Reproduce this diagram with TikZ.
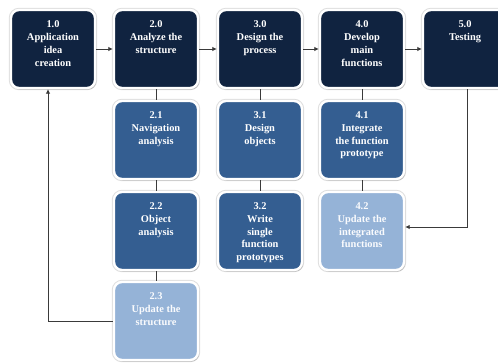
\documentclass[tikz,border=0pt]{standalone}
\usepackage{fontspec}
\setmainfont{Liberation Serif}
\usetikzlibrary{arrows.meta,shadows}
\definecolor{cdark}{HTML}{102340}
\definecolor{cmid}{HTML}{345E91}
\definecolor{clight}{HTML}{95B3D7}
\definecolor{cline}{HTML}{3A3A3A}
\newcommand\boxtext[1]{\parbox[c][56bp][t]{82bp}{\centering #1}}
\tikzset{
  pbox/.style={rounded corners=8bp, inner sep=0bp, minimum width=84bp, minimum height=78bp,
    draw=white, line width=2.4bp, text=white,
    font=\fontsize{10.4bp}{12.7bp}\selectfont\bfseries,
    preaction={draw=black!13, line width=4.4bp},
    drop shadow={shadow xshift=1.2bp, shadow yshift=-1.6bp, fill=black!40, opacity=0.5}},
  dk/.style={pbox, fill=cdark},
  md/.style={pbox, fill=cmid},
  lt/.style={pbox, fill=clight, text=white!95!clight},
  conn/.style={draw=cline, line width=0.8bp},
  arr/.style={conn, -{Latex[length=4.5bp,width=4.5bp]}}
}
\begin{document}
\begin{tikzpicture}[x=1bp,y=-1bp]
\useasboundingbox (0,0) rectangle (498,362);
\node[dk] (b10) at (53,49) {\boxtext{1.0\\Application\\idea\\creation}};
\node[dk] (b20) at (156,49) {\boxtext{2.0\\Analyze the\\structure}};
\node[dk] (b30) at (260,49) {\boxtext{3.0\\Design the\\process}};
\node[dk] (b40) at (362,49) {\boxtext{4.0\\Develop\\main\\functions}};
\node[dk] (b50) at (465,49) {\boxtext{5.0\\Testing}};
\node[md] (b21) at (156,140) {\boxtext{2.1\\Navigation\\analysis}};
\node[md] (b31) at (260,140) {\boxtext{3.1\\Design\\objects}};
\node[md] (b41) at (362,140) {\boxtext{4.1\\Integrate\\the function\\prototype}};
\node[md] (b22) at (156,231) {\boxtext{2.2\\Object\\analysis}};
\node[md] (b32) at (260,231) {\boxtext{3.2\\Write\\single\\function\\prototypes}};
\node[lt] (b42) at (362,231) {\boxtext{4.2\\Update the\\integrated\\functions}};
\node[lt] (b23) at (156,321) {\boxtext{2.3\\Update the\\structure}};
\draw[arr] (b10.east) -- (b20.west);
\draw[arr] (b20.east) -- (b30.west);
\draw[arr] (b30.east) -- (b40.west);
\draw[arr] (b40.east) -- (b50.west);
\draw[conn] (b20.south) -- (b21.north);
\draw[conn] (b21.south) -- (b22.north);
\draw[conn] (b22.south) -- (b23.north);
\draw[conn] (b30.south) -- (b31.north);
\draw[conn] (b31.south) -- (b32.north);
\draw[conn] (b40.south) -- (b41.north);
\draw[conn] (b41.south) -- (b42.north);
\draw[arr] (b23.west) -| ([xshift=-5bp]b10.south);
\draw[arr] ([xshift=2bp]b50.south) |- ([yshift=4bp]b42.east);
\end{tikzpicture}
\end{document}
